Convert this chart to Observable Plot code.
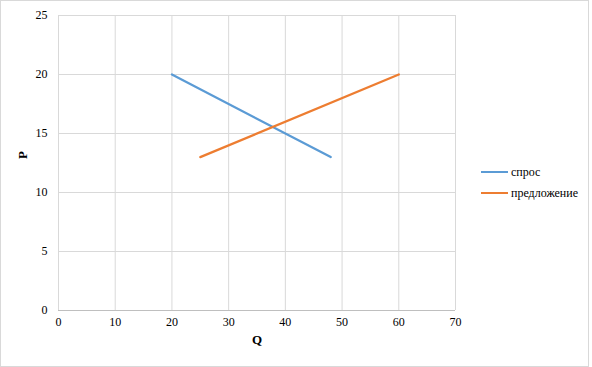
<!DOCTYPE html>
<html><head><meta charset="utf-8">
<script src="https://cdn.jsdelivr.net/npm/d3@7"></script>
<script src="https://cdn.jsdelivr.net/npm/@observablehq/plot@0.6"></script>
<style>
body{margin:0;background:#fff;}
#wrap{position:relative;width:592px;height:367px;font-family:"Liberation Serif",serif;}
#border{position:absolute;left:0;top:0;width:587px;height:365px;border:1px solid #d9d9d9;pointer-events:none;}
.leg{position:absolute;left:481px;font-size:12px;color:#000;display:flex;align-items:center;}
.leg span.sw{display:inline-block;width:27px;height:2.5px;margin-right:3px;}
</style></head>
<body><div id="wrap"><div id="border"></div></div>
<script>
const series = ["спрос", "предложение"];
const colors = ["#5b9bd5", "#ed7d31"];
const demandQ = [20, 48];
const demandP = [20, 13];
const supplyQ = [25, 60];
const supplyP = [13, 20];
const xTicks = [0, 10, 20, 30, 40, 50, 60, 70];
const yTicks = [0, 5, 10, 15, 20, 25];

const data = [
  ...demandQ.map((q, i) => ({series: series[0], Q: q, P: demandP[i]})),
  ...supplyQ.map((q, i) => ({series: series[1], Q: q, P: supplyP[i]}))
];

const FONT = "'Liberation Serif', serif";
const chart = Plot.plot({
  width: 592, height: 367,
  marginLeft: 58, marginRight: 137, marginTop: 15, marginBottom: 57,
  style: {fontFamily: FONT, fontSize: "12px", color: "#000", background: "transparent"},
  x: {domain: [0, 70], ticks: xTicks},
  y: {domain: [0, 25], ticks: yTicks},
  color: {domain: series, range: colors},
  marks: [
    Plot.ruleX(xTicks, {stroke: "#d9d9d9", strokeWidth: 1}),
    Plot.ruleY(yTicks, {stroke: "#d9d9d9", strokeWidth: 1}),
    Plot.ruleY([0], {stroke: "#bfbfbf", strokeWidth: 1}),
    Plot.axisX({ticks: xTicks, tickSize: 0, tickPadding: 7, label: null, fill: "#000", fontFamily: FONT}),
    Plot.axisY({ticks: yTicks, tickSize: 0, tickPadding: 11, label: null, fill: "#000", fontFamily: FONT}),
    Plot.line(data, {x: "Q", y: "P", z: "series", stroke: "series", strokeWidth: 2.25, strokeLinecap: "round"}),
    Plot.text(["Q"], {frameAnchor: "bottom", dy: 33, fontWeight: "bold", fontSize: 13, fontFamily: FONT}),
    Plot.text(["P"], {frameAnchor: "left", dx: -36, dy: -4, rotate: -90, fontWeight: "bold", fontSize: 13, fontFamily: FONT})
  ]
});
const wrap = document.getElementById("wrap");
wrap.insertBefore(chart, wrap.firstChild);

const legY = [172, 193];
series.forEach((s, i) => {
  const d = document.createElement("div");
  d.className = "leg";
  d.style.top = (legY[i] - 8) + "px";
  d.style.height = "16px";
  d.innerHTML = `<span class="sw" style="background:${colors[i]}"></span><span>${s}</span>`;
  wrap.appendChild(d);
});
</script>
</body></html>
